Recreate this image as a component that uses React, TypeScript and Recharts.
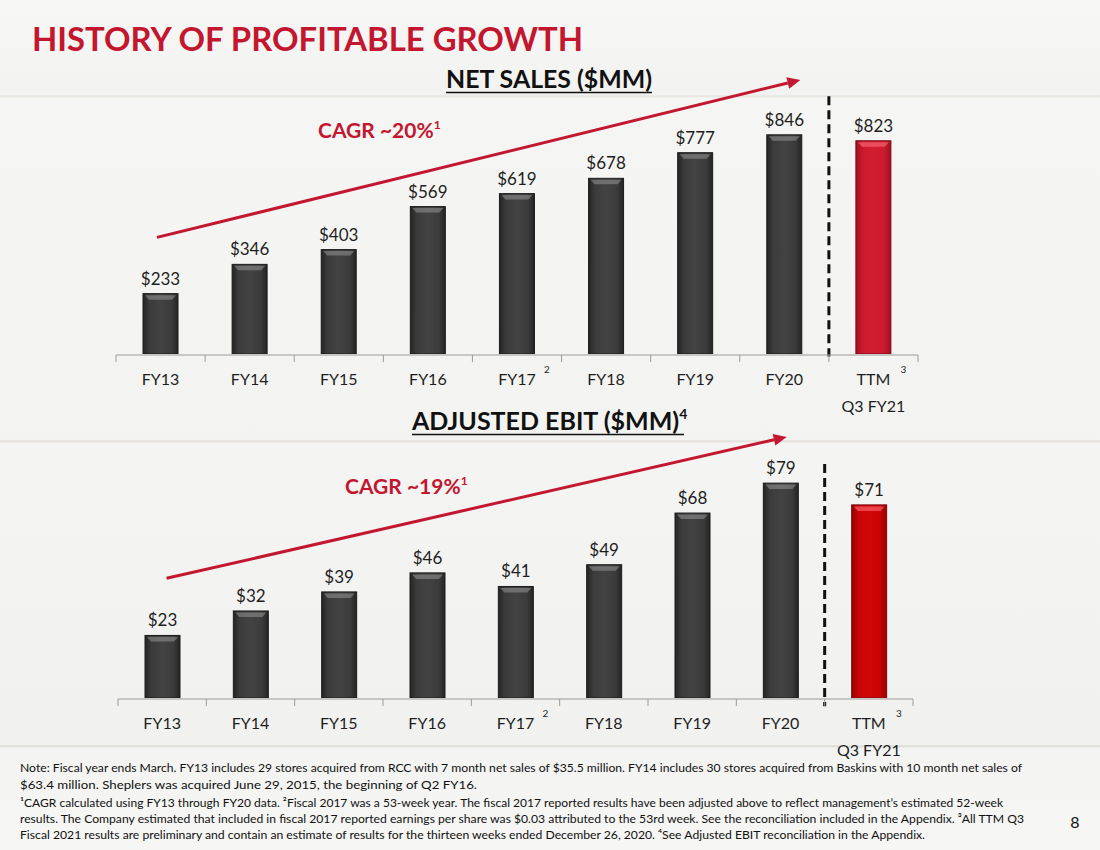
import React from 'react';
import { BarChart, Bar, XAxis, YAxis, Cell, LabelList, ReferenceLine } from 'recharts';

// fiscal years shown on both charts
const categories = ['FY13', 'FY14', 'FY15', 'FY16', 'FY17', 'FY18', 'FY19', 'FY20', 'TTM'];
const netSales = [233, 346, 403, 569, 619, 678, 777, 846, 823];
const adjustedEbit = [23, 32, 39, 46, 41, 49, 68, 79, 71];

// footnote marks and second line under some ticks
const tickNotes: Record<string, string> = { FY17: '2', TTM: '3' };
const tickSecondLine: Record<string, string> = { TTM: 'Q3 FY21' };

// CAGR arrows, as [slot on 0..9 axis, value]
const salesTrend = [
  [0.46, 450],
  [7.68, 1058],
];
const ebitTrend = [
  [0.55, 44],
  [7.57, 96],
];
// dashed divider between FY20 and TTM, [slot, from value, to value]
const salesDivider = [8, 995, -10];
const ebitDivider = [8, 86, -3];

const salesData = categories.map((name, i) => ({ name, value: netSales[i] }));
const ebitData = categories.map((name, i) => ({ name, value: adjustedEbit[i] }));

const FONT = 'Lato, "Open Sans", sans-serif';
const RED = '#c3162f';

const CategoryTick = (props: any) => {
  const { x, y, payload } = props;
  const label = payload.value as string;
  return (
    <g>
      <text x={x} y={y + 31} textAnchor="middle" fontSize={16} fill="#1e1e1e" fontFamily={FONT}>
        {label}
      </text>
      {tickNotes[label] && (
        <text x={x + 30} y={y + 19} textAnchor="middle" fontSize={10} fill="#1e1e1e" fontFamily={FONT}>
          {tickNotes[label]}
        </text>
      )}
      {tickSecondLine[label] && (
        <text x={x} y={y + 58} textAnchor="middle" fontSize={16} fill="#1e1e1e" fontFamily={FONT}>
          {tickSecondLine[label]}
        </text>
      )}
    </g>
  );
};

const EmptyTick = () => <g />;

const makeBevelBar = (redFill: string) => (props: any) => {
  const { x, y, width, height, payload } = props;
  const ttm = payload && payload.name === 'TTM';
  const fill = ttm ? redFill : 'url(#darkBar)';
  const edge = ttm ? '#7a0a14' : '#1c1c1c';
  const hi = ttm ? 'rgba(255,120,130,0.55)' : 'rgba(150,150,150,0.55)';
  if (!height || height <= 0) return null;
  return (
    <g>
      <rect x={x} y={y} width={width} height={height} fill={fill} stroke={edge} strokeWidth={1} />
      <polygon
        points={`${x + 2},${y + 1.5} ${x + width - 2},${y + 1.5} ${x + width - 6},${y + 6} ${x + 6},${y + 6}`}
        fill={hi}
      />
    </g>
  );
};

const Arrow = (props: any) => {
  const { x1, y1, x2, y2 } = props;
  if (x1 == null) return null;
  const ang = Math.atan2(y2 - y1, x2 - x1);
  const len = 13;
  const half = 6;
  const bx = x2 - len * Math.cos(ang);
  const by = y2 - len * Math.sin(ang);
  const px = -Math.sin(ang) * half;
  const py = Math.cos(ang) * half;
  return (
    <g>
      <line x1={x1} y1={y1} x2={bx} y2={by} stroke={RED} strokeWidth={3} />
      <polygon points={`${x2},${y2} ${bx + px},${by + py} ${bx - px},${by - py}`} fill={RED} />
    </g>
  );
};

const Defs = () => (
  <defs>
    <linearGradient id="darkBar" x1="0" y1="0" x2="1" y2="0">
      <stop offset="0%" stopColor="#242424" />
      <stop offset="18%" stopColor="#3b3b3b" />
      <stop offset="50%" stopColor="#434343" />
      <stop offset="82%" stopColor="#3b3b3b" />
      <stop offset="100%" stopColor="#242424" />
    </linearGradient>
    <linearGradient id="redBarTop" x1="0" y1="0" x2="1" y2="0">
      <stop offset="0%" stopColor="#a0101f" />
      <stop offset="20%" stopColor="#cc1a2e" />
      <stop offset="50%" stopColor="#d41d31" />
      <stop offset="80%" stopColor="#cc1a2e" />
      <stop offset="100%" stopColor="#a0101f" />
    </linearGradient>
    <linearGradient id="redBarBottom" x1="0" y1="0" x2="1" y2="0">
      <stop offset="0%" stopColor="#980000" />
      <stop offset="20%" stopColor="#c80404" />
      <stop offset="50%" stopColor="#d20707" />
      <stop offset="80%" stopColor="#c80404" />
      <stop offset="100%" stopColor="#980000" />
    </linearGradient>
  </defs>
);

const slots = [0, 1, 2, 3, 4, 5, 6, 7, 8, 9];

const PanelChart = ({
  data,
  domainMax,
  margin,
  height,
  trend,
  divider,
  redFill,
}: {
  data: { name: string; value: number }[];
  domainMax: number;
  margin: { top: number; right: number; left: number; bottom: number };
  height: number;
  trend: number[][];
  divider: number[];
  redFill: string;
}) => (
  <BarChart width={1100} height={height} data={data} margin={margin} style={{ fontFamily: FONT }}>
    <Defs />
    <XAxis
      xAxisId="slot"
      type="number"
      dataKey="slotNone"
      domain={[0, 9]}
      allowDataOverflow
      ticks={slots}
      tick={EmptyTick}
      tickSize={7}
      height={1}
      axisLine={{ stroke: '#9a9a9a' }}
      tickLine={{ stroke: '#9a9a9a' }}
    />
    <XAxis
      dataKey="name"
      height={1}
      axisLine={false}
      tickLine={false}
      tickSize={0}
      tickMargin={0}
      interval={0}
      tick={<CategoryTick />}
    />
    <YAxis hide domain={[0, domainMax]} allowDataOverflow />
    <Bar dataKey="value" barSize={35} isAnimationActive={false} shape={makeBevelBar(redFill)}>
      {data.map((d) => (
        <Cell key={d.name} fill={d.name === 'TTM' ? redFill : 'url(#darkBar)'} />
      ))}
      <LabelList
        dataKey="value"
        position="top"
        offset={9}
        formatter={(v: any) => `$${v}`}
        style={{ fill: '#1e1e1e', fontSize: 17, fontFamily: FONT }}
      />
    </Bar>
    <ReferenceLine
      xAxisId="slot"
      ifOverflow="visible"
      segment={[
        { x: divider[0], y: divider[1] },
        { x: divider[0], y: divider[2] },
      ]}
      stroke="#111"
      strokeWidth={3}
      strokeDasharray="9 5"
    />
    <ReferenceLine
      xAxisId="slot"
      ifOverflow="visible"
      segment={[
        { x: trend[0][0], y: trend[0][1] },
        { x: trend[1][0], y: trend[1][1] },
      ]}
      shape={<Arrow />}
    />
  </BarChart>
);

const footnotes = [
  { text: 'Note:  Fiscal year ends March. FY13 includes 29 stores acquired from RCC with 7 month net sales of $35.5 million. FY14 includes 30 stores acquired from Baskins with 10 month net sales of', w: 1002, y: 772 },
  { text: '$63.4 million. Sheplers was acquired June 29, 2015, the beginning of Q2 FY16.', w: 457, y: 789 },
  { text: '¹CAGR calculated using FY13 through FY20 data. ²Fiscal 2017 was a 53-week year. The fiscal 2017 reported results have been adjusted above to reflect management’s estimated 52-week', w: 983, y: 807 },
  { text: 'results. The Company estimated that included in fiscal 2017 reported earnings per share was $0.03 attributed to the 53rd week. See the reconciliation included in the Appendix. ³All TTM Q3', w: 1004, y: 823 },
  { text: 'Fiscal 2021 results are preliminary and contain an estimate of results for the thirteen weeks ended December 26, 2020. ⁴See Adjusted EBIT reconciliation in the Appendix.', w: 905, y: 839 },
];

export default function App() {
  return (
    <div
      style={{
        position: 'absolute',
        left: 0,
        top: 0,
        width: 1100,
        height: 850,
        overflow: 'hidden',
        fontFamily: FONT,
        background:
          'linear-gradient(180deg, #f7f7f5 0px, #f2f2f0 95px, #e4e2dc 96px, #f5f5f3 98px, #f3f3f1 440px, #dedbd4 441px, #f4f4f2 443px, #f1f1ef 745px, #d9d6cf 746px, #f3f3f1 748px, #f6f6f4 850px)',
      }}
    >
      <div style={{ position: 'absolute', left: 0, top: 0 }}>
        <PanelChart
          data={salesData}
          domainMax={1100}
          margin={{ top: 69, right: 182, left: 116, bottom: 64 }}
          height={420}
          trend={salesTrend}
          divider={salesDivider}
          redFill="url(#redBarTop)"
        />
      </div>
      <div style={{ position: 'absolute', left: 0, top: 380 }}>
        <PanelChart
          data={ebitData}
          domainMax={100}
          margin={{ top: 46, right: 187, left: 118, bottom: 100 }}
          height={420}
          trend={ebitTrend}
          divider={ebitDivider}
          redFill="url(#redBarBottom)"
        />
      </div>
      <svg width={1100} height={850} style={{ position: 'absolute', left: 0, top: 0, pointerEvents: 'none' }}>
        <text x={32} y={51} fontSize={33} fontWeight={700} fill={RED} textLength={551} lengthAdjust="spacingAndGlyphs">
          HISTORY OF PROFITABLE GROWTH
        </text>

        <text x={446} y={88} fontSize={25} fontWeight={700} fill="#111" textLength={206} lengthAdjust="spacingAndGlyphs">
          NET SALES ($MM)
        </text>
        <line x1={446} y1={92.5} x2={652} y2={92.5} stroke="#111" strokeWidth={1.6} />

        <text x={412} y={430} fontSize={25} fontWeight={700} fill="#111">
          ADJUSTED EBIT ($MM)
          <tspan dy={-11} fontSize={14}>4</tspan>
        </text>
        <line x1={412} y1={434.5} x2={684} y2={434.5} stroke="#111" strokeWidth={1.6} />

        <text x={318} y={138} fontSize={21} fontWeight={700} fill={RED}>
          CAGR ~20%
          <tspan dy={-9} fontSize={12}>1</tspan>
        </text>

        <text x={345} y={494} fontSize={21} fontWeight={700} fill={RED}>
          CAGR ~19%
          <tspan dy={-9} fontSize={12}>1</tspan>
        </text>

        {footnotes.map((f) => (
          <text key={f.y} x={20} y={f.y} fontSize={12} fill="#111" textLength={f.w} lengthAdjust="spacingAndGlyphs">
            {f.text}
          </text>
        ))}

        <text x={1075} y={828} fontSize={16} fill="#111" textAnchor="middle">8</text>
      </svg>
    </div>
  );
}
